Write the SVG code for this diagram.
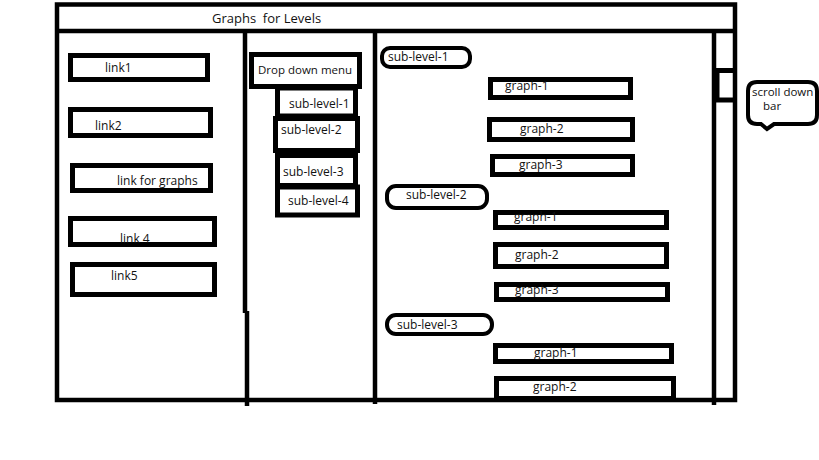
<svg xmlns="http://www.w3.org/2000/svg" width="819" height="460" viewBox="0 0 819 460">
<style>
  .f{fill:none;stroke:#000;stroke-width:4.5}
  .b{fill:#fff;stroke:#000;stroke-width:5}
  .p{fill:#fff;stroke:#000;stroke-width:4}
  text{font-family:"Open Sans","Noto Sans","Liberation Sans",sans-serif;font-size:12px;fill:#111;white-space:pre}
</style>
<defs>
  <clipPath id="cc"><rect x="740" y="80" width="74" height="50"/></clipPath>
</defs>
<rect x="0" y="0" width="819" height="460" fill="#fff"/>
<g id="frame">
  <rect class="f" x="57" y="4.5" width="678" height="395.5"/>
  <line class="f" x1="57" y1="31" x2="735" y2="31"/>
  <line class="f" x1="245" y1="31" x2="245" y2="313"/>
  <line class="f" x1="247" y1="311" x2="247" y2="406"/>
  <line class="f" x1="375" y1="31" x2="375" y2="404"/>
  <line class="f" x1="714" y1="31" x2="714" y2="405"/>
</g>
<g id="title"><text x="212" y="23" style="font-size:13px">Graphs  for Levels</text></g>
<g id="scrollthumb">
  <line x1="717" y1="70" x2="717" y2="101" stroke="#000" stroke-width="5"/>
  <line x1="714" y1="70.5" x2="735" y2="70.5" stroke="#000" stroke-width="5"/>
  <line x1="714" y1="100" x2="735" y2="100" stroke="#000" stroke-width="5"/>
</g>
<g id="link1"><rect class="b" x="70.5" y="55.5" width="137" height="24"/><text x="105" y="72">link1</text></g>
<g id="link2"><rect class="b" x="70.5" y="109.5" width="140" height="26"/><text x="95" y="130">link2</text></g>
<g id="linkgraphs"><rect class="b" x="72.5" y="165.5" width="138" height="25"/><text x="117" y="185">link for graphs</text></g>
<g id="link4"><rect class="b" x="70.5" y="218.5" width="144" height="26"/><text x="120" y="243">link 4</text></g>
<g id="link5"><rect class="b" x="72.5" y="264.5" width="142" height="30"/><text x="111" y="280">link5</text></g>
<g id="dropdown"><rect class="b" x="251.5" y="54.5" width="108" height="32"/><text x="258" y="74" style="font-size:11.5px">Drop down menu</text></g>
<g id="m-sub1"><rect class="b" x="277.5" y="88" width="78" height="28"/><text x="289" y="108">sub-level-1</text></g>
<g id="m-sub2"><rect class="b" x="275.5" y="118.5" width="82" height="32"/><text x="281" y="134">sub-level-2</text></g>
<g id="m-sub3"><rect class="b" x="277.5" y="155.5" width="78" height="30"/><text x="283" y="176">sub-level-3</text></g>
<g id="m-sub4"><rect class="b" x="277.5" y="187" width="80" height="28"/><text x="288" y="205">sub-level-4</text></g>
<g id="r-sub1"><rect class="p" x="382" y="48" width="88" height="19" rx="8"/><text x="388" y="61">sub-level-1</text></g>
<g id="g1-1"><rect class="b" x="490.5" y="79.5" width="140" height="18"/><text x="505" y="90">graph-1</text></g>
<g id="g1-2"><rect class="b" x="489.5" y="119.5" width="143" height="20"/><text x="520" y="133">graph-2</text></g>
<g id="g1-3"><rect class="b" x="492.5" y="156.5" width="140" height="18"/><text x="519" y="169">graph-3</text></g>
<g id="r-sub2"><rect class="p" x="387" y="186" width="100" height="22" rx="9"/><text x="406" y="199">sub-level-2</text></g>
<g id="g2-1"><rect class="b" x="495.5" y="212.5" width="171" height="15"/><text x="514" y="221">graph-1</text></g>
<g id="g2-2"><rect class="b" x="495.5" y="244.5" width="171" height="22"/><text x="515" y="259">graph-2</text></g>
<g id="g2-3"><rect class="b" x="496.5" y="284.5" width="171" height="15"/><text x="515" y="294">graph-3</text></g>
<g id="r-sub3"><rect class="p" x="387" y="315" width="105" height="19" rx="9"/><text x="397" y="329">sub-level-3</text></g>
<g id="g3-1"><rect class="b" x="495.5" y="345.5" width="176" height="16"/><text x="534" y="357">graph-1</text></g>
<g id="g3-2"><rect class="b" x="496.5" y="378.5" width="177" height="20"/><text x="533" y="391">graph-2</text></g>
<g id="callout">
  <path class="p" d="M757,82 H808 Q817,82 817,91 V115 Q817,124 808,124 H774 L767,129 L761,124 H757 Q748,124 748,115 V91 Q748,82 757,82 Z"/>
  <text x="752" y="96" style="font-size:11.5px" clip-path="url(#cc)">scroll down</text>
  <text x="763" y="110" style="font-size:11.5px">bar</text>
</g>
<g id="connectors"/>
</svg>
